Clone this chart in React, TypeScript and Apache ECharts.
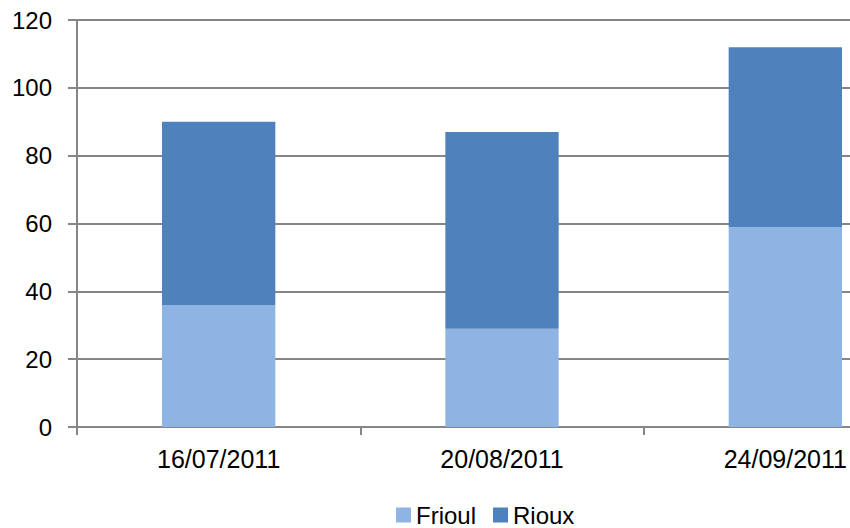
import React, { useEffect, useRef } from "react";
import * as echarts from "echarts";

const categories = ["16/07/2011", "20/08/2011", "24/09/2011"];
const frioul = [36, 29, 59];
const rioux = [54, 58, 53];
const yTicks = { min: 0, max: 120, interval: 20 };

const gray = "#868686";
const font = "'Liberation Sans', Arial, sans-serif";

export default function App() {
  const ref = useRef<HTMLDivElement>(null);
  useEffect(() => {
    if (!ref.current) return;
    const chart = echarts.init(ref.current, undefined, { renderer: "svg" });
    chart.setOption({
      animation: false,
      backgroundColor: "#ffffff",
      textStyle: { fontFamily: font },
      grid: { left: 77, top: 20, width: 850, height: 407, containLabel: false },
      legend: {
        left: 396,
        top: 503,
        padding: 0,
        itemWidth: 15,
        itemHeight: 15,
        itemGap: 17,
        icon: "rect",
        textStyle: { fontSize: 24, color: "#000", fontFamily: font },
        data: ["Frioul", "Rioux"],
      },
      xAxis: {
        type: "category",
        data: categories,
        axisLine: { show: true, lineStyle: { color: gray, width: 2 } },
        axisTick: { show: true, length: 8, lineStyle: { color: gray, width: 2 } },
        axisLabel: { fontSize: 25, color: "#000", margin: 19, fontFamily: font },
        splitLine: { show: false },
      },
      yAxis: {
        type: "value",
        min: yTicks.min,
        max: yTicks.max,
        interval: yTicks.interval,
        axisLine: { show: true, lineStyle: { color: gray, width: 2 } },
        axisTick: { show: true, length: 9, lineStyle: { color: gray, width: 2 } },
        axisLabel: { fontSize: 24, color: "#000", margin: 25, fontFamily: font },
        splitLine: { show: true, lineStyle: { color: gray, width: 2 } },
      },
      series: [
        {
          name: "Frioul",
          type: "bar",
          stack: "total",
          data: frioul,
          barWidth: "40%",
          itemStyle: { color: "#8EB4E3" },
        },
        {
          name: "Rioux",
          type: "bar",
          stack: "total",
          data: rioux,
          barWidth: "40%",
          itemStyle: { color: "#4F81BD" },
        },
      ],
    });
    return () => chart.dispose();
  }, []);
  return (
    <div
      style={{
        position: "fixed",
        left: 0,
        top: 0,
        width: 850,
        height: 528,
        overflow: "hidden",
        background: "#fff",
      }}
    >
      <div ref={ref} style={{ width: 960, height: 560 }} />
    </div>
  );
}
